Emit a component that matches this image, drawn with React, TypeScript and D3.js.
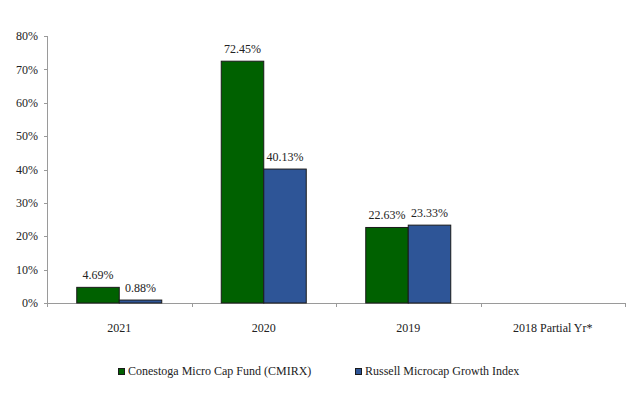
import { useEffect, useRef } from 'react'
import * as d3 from 'd3'

const categories = ['2021', '2020', '2019', '2018 Partial Yr*']
const seriesNames = ['Conestoga Micro Cap Fund (CMIRX)', 'Russell Microcap Growth Index']
const fundValues: (number | null)[] = [4.69, 72.45, 22.63, null]
const indexValues: (number | null)[] = [0.88, 40.13, 23.33, null]
const yTicks = [0, 10, 20, 30, 40, 50, 60, 70, 80]
const colors = ['#006100', '#2E5597']

const FONT = '"Liberation Serif", "DejaVu Serif", serif'

export default function App() {
  const svgRef = useRef<SVGSVGElement>(null)

  useEffect(() => {
    if (!svgRef.current) return
    const svg = d3.select(svgRef.current)
    svg.selectAll('*').remove()

    const margin = { top: 36, left: 47, right: 15, bottom: 98 }
    const width = 640 - margin.left - margin.right
    const height = 401 - margin.top - margin.bottom

    const g = svg.append('g').attr('transform', `translate(${margin.left},${margin.top})`)

    const x = d3.scaleBand().domain(categories).range([0, width]).paddingInner(0).paddingOuter(0)
    const xInner = d3.scaleBand().domain(seriesNames).range([0, x.bandwidth()]).paddingInner(0).paddingOuter(0.7)
    const y = d3.scaleLinear().domain([0, 80]).range([height, 0])

    // y axis
    g.append('line')
      .attr('x1', 0.5).attr('x2', 0.5).attr('y1', 0).attr('y2', height)
      .attr('stroke', '#9a9a9a')
    g.selectAll('.ytick')
      .data(yTicks)
      .enter().append('line')
      .attr('x1', -3).attr('x2', 0)
      .attr('y1', d => Math.round(y(d)) + 0.5).attr('y2', d => Math.round(y(d)) + 0.5)
      .attr('stroke', '#9a9a9a')
    g.selectAll('.ylabel')
      .data(yTicks)
      .enter().append('text')
      .attr('x', -9)
      .attr('y', d => y(d))
      .attr('dy', '0.35em')
      .attr('text-anchor', 'end')
      .style('font-family', FONT)
      .style('font-size', '12px')
      .style('fill', '#222')
      .text(d => `${d}%`)

    // x axis
    g.append('line')
      .attr('x1', 0).attr('x2', width).attr('y1', height + 0.5).attr('y2', height + 0.5)
      .attr('stroke', '#9a9a9a')
    g.selectAll('.xtick')
      .data(d3.range(categories.length + 1))
      .enter().append('line')
      .attr('x1', i => Math.round(i * x.step()) + 0.5)
      .attr('x2', i => Math.round(i * x.step()) + 0.5)
      .attr('y1', height).attr('y2', height + 4)
      .attr('stroke', '#9a9a9a')
    g.selectAll('.xlabel')
      .data(categories)
      .enter().append('text')
      .attr('x', d => x(d)! + x.bandwidth() / 2)
      .attr('y', height + 29)
      .attr('text-anchor', 'middle')
      .style('font-family', FONT)
      .style('font-size', '12px')
      .style('fill', '#222')
      .text(d => d)

    const series = [fundValues, indexValues]
    series.forEach((vals, si) => {
      const data = categories.map((c, i) => ({ c, v: vals[i] })).filter(d => d.v !== null) as { c: string, v: number }[]
      g.selectAll(`.bar${si}`)
        .data(data)
        .enter().append('rect')
        .attr('x', d => x(d.c)! + xInner(seriesNames[si])!)
        .attr('width', xInner.bandwidth())
        .attr('y', d => y(d.v))
        .attr('height', d => height - y(d.v))
        .attr('fill', colors[si])
        .attr('stroke', '#1a1a1a')
        .attr('stroke-width', 1)
      g.selectAll(`.lab${si}`)
        .data(data)
        .enter().append('text')
        .attr('x', d => x(d.c)! + xInner(seriesNames[si])! + xInner.bandwidth() / 2)
        .attr('y', d => y(d.v) - 8)
        .attr('text-anchor', 'middle')
        .style('font-family', FONT)
        .style('font-size', '12px')
        .style('fill', '#222')
        .text(d => `${d.v.toFixed(2)}%`)
    })

    // legend
    const legendX = [118, 355]
    seriesNames.forEach((name, i) => {
      svg.append('rect')
        .attr('x', legendX[i] + 0.5).attr('y', 368.5)
        .attr('width', 6).attr('height', 6)
        .attr('fill', colors[i])
        .attr('stroke', '#1a1a1a')
      svg.append('text')
        .attr('x', legendX[i] + 10)
        .attr('y', 375)
        .style('font-family', FONT)
        .style('font-size', '12px')
        .style('fill', '#222')
        .text(name)
    })
  }, [])

  return (
    <svg
      ref={svgRef}
      width={640}
      height={401}
      style={{ position: 'absolute', left: 0, top: 0, background: '#fff' }}
    />
  )
}
